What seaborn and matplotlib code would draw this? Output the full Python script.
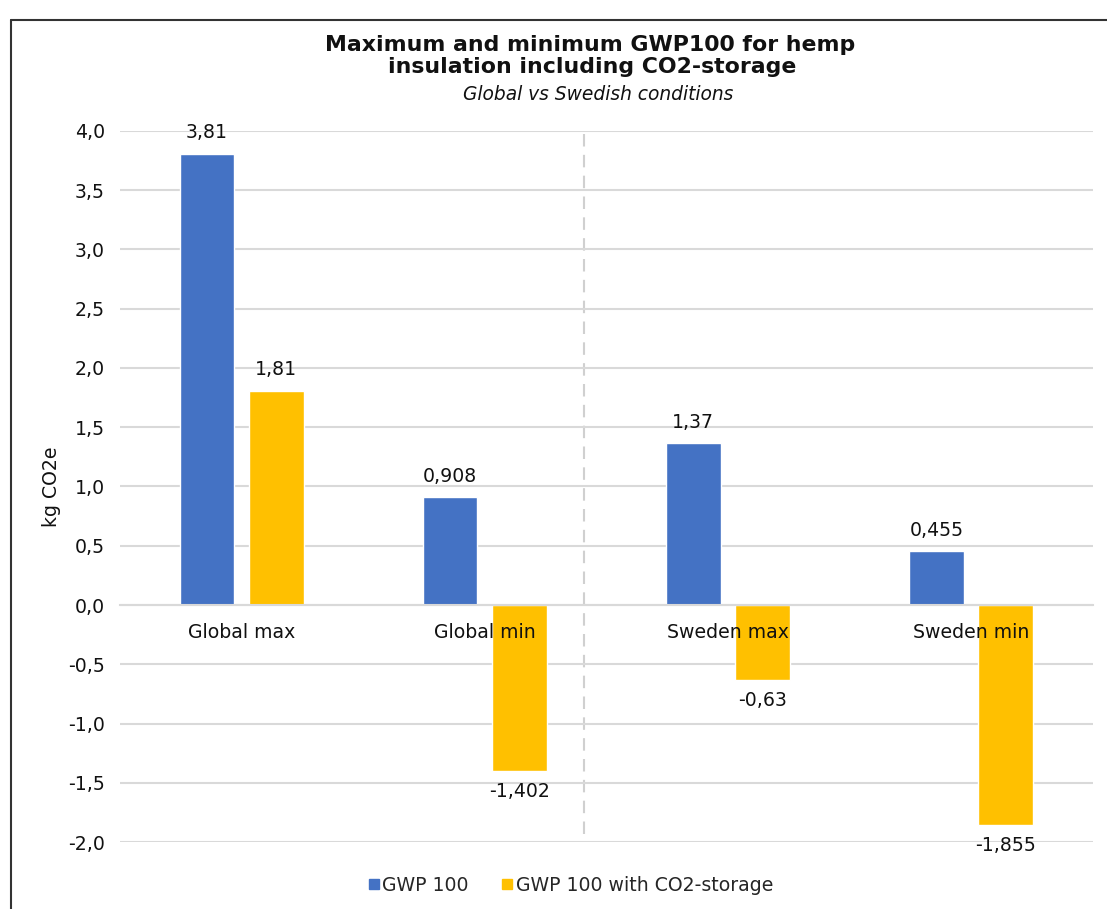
import matplotlib
matplotlib.use("Agg")
import matplotlib.pyplot as plt
import matplotlib.lines as mlines
import seaborn as sns
import pandas as pd

# values (kg CO2e)
categories = ["Global max", "Global min", "Sweden max", "Sweden min"]
series = ["GWP 100", "GWP 100 with CO2-storage"]
gwp100 = [3.81, 0.908, 1.37, 0.455]
gwp100_storage = [1.81, -1.402, -0.63, -1.855]
y_ticks = [-2.0, -1.5, -1.0, -0.5, 0.0, 0.5, 1.0, 1.5, 2.0, 2.5, 3.0, 3.5, 4.0]

colors = ["#4472C4", "#FFC000"]
fs = 13.6

df = pd.DataFrame({
    "category": categories * 2,
    "series": [series[0]] * 4 + [series[1]] * 4,
    "value": gwp100 + gwp100_storage,
})

sns.set_theme(style="white")
plt.rcParams["font.family"] = ["DejaVu Sans"]

fig = plt.figure(figsize=(11.07, 9.09), dpi=100)
ax = fig.add_axes([0.1084, 0.0737, 0.8786, 0.7822])

sns.barplot(
    data=df, x="category", y="value", hue="series",
    order=categories, hue_order=series, palette=colors,
    width=0.57, gap=0.21, saturation=1, ax=ax, legend=False,
)

# value labels with decimal comma
for cont, vals in zip(ax.containers, [gwp100, gwp100_storage]):
    labels = [str(v).replace(".", ",") for v in vals]
    ax.bar_label(cont, labels=labels, padding=8, fontsize=fs, color="#111111")

ax.set_ylim(-2.0, 4.0)
ax.set_xlim(-0.5, 3.5)
ax.set_yticks(y_ticks)
ax.set_yticklabels([f"{t:.1f}".replace(".", ",") for t in y_ticks], fontsize=fs)
ax.yaxis.grid(True, color="#D9D9D9", linewidth=1.5)
ax.set_axisbelow(True)

for s in ["top", "right", "left"]:
    ax.spines[s].set_visible(False)
ax.spines["bottom"].set_position(("data", 0))
ax.spines["bottom"].set_color("#D9D9D9")
ax.spines["bottom"].set_linewidth(1.5)
ax.tick_params(axis="y", length=0, pad=11, colors="#111111")
ax.tick_params(axis="x", length=0, labelbottom=False)

# category names sit on the zero line, drawn over the bars like in the original
for i, cat in enumerate(categories):
    ax.annotate(cat, (i, 0), xytext=(0, -13), textcoords="offset points",
                ha="center", va="top", fontsize=fs, color="#111111", zorder=5)

ax.set_xlabel("")
ax.set_ylabel("kg CO2e", fontsize=fs, labelpad=5, color="#111111")

# dashed separator between global and swedish results
ax.axvline(1.41, ymin=(-1.93 + 2) / 6, ymax=1, color="#D0D0D0",
           linestyle=(0, (6, 4)), linewidth=1.5, zorder=0)

fig.text(0.533, 1 - 45 / 909, "Maximum and minimum GWP100 for hemp",
         ha="center", va="center", fontsize=15.8, fontweight="bold", color="#111111")
fig.text(0.535, 1 - 67 / 909, "insulation including CO2-storage",
         ha="center", va="center", fontsize=15.8, fontweight="bold", color="#111111")
fig.text(0.540, 1 - 95 / 909, "Global vs Swedish conditions", ha="center", va="center",
         fontsize=13.4, style="italic", color="#111111")

handles = [mlines.Line2D([], [], marker="s", linestyle="none", markersize=7.2,
                         color=c) for c in colors]
fig.legend(handles, series, loc="center", bbox_to_anchor=(0.515, 0.026),
           ncol=2, frameon=False, fontsize=fs, handletextpad=0.1,
           columnspacing=1.7, handlelength=0.7)

# outer frame of the original chart box
fig.add_artist(mlines.Line2D([11 / 1107, 11 / 1107], [0, 1 - 20 / 909],
                             transform=fig.transFigure, color="#333333", linewidth=1.5))
fig.add_artist(mlines.Line2D([11 / 1107, 1], [1 - 20 / 909, 1 - 20 / 909],
                             transform=fig.transFigure, color="#333333", linewidth=1.5))

fig.savefig("out.png", dpi=100)
